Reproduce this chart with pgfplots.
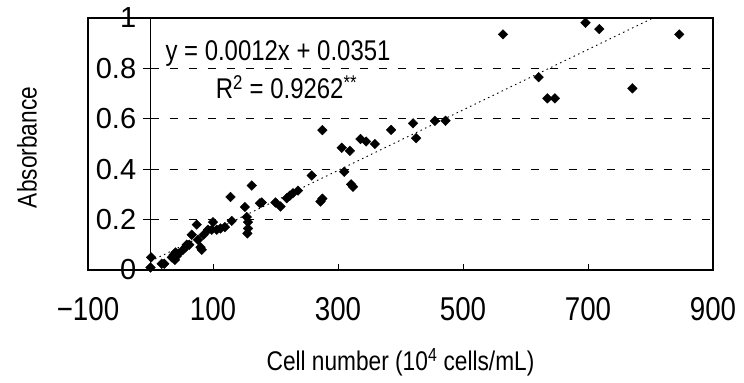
\documentclass[border=0pt]{standalone}
\usepackage{pgfplots}
\pgfplotsset{compat=1.18}
\usepackage{fontspec}
\setmainfont{Liberation Sans}
\newfontfamily\cond[FakeStretch=0.84]{Liberation Sans}
\begin{document}
\begin{tikzpicture}
\path[use as bounding box] (-88bp,-113bp) rectangle (656bp,270bp);
\begin{axis}[
 at={(0,0)}, anchor=south west, scale only axis,
 width=625bp, height=252bp,
 xmin=-100, xmax=900, ymin=0, ymax=1,
 axis line style={line width=1.2bp},
 xtick={-100,100,300,500,700,900},
 xticklabels={−100,100,300,500,700,900},
 ytick={0,0.2,0.4,0.6,0.8,1},
 yticklabels={0,0.2,0.4,0.6,0.8,1},
 tick pos=left, tick align=inside, major tick length=6bp,
 xtick style={line width=1bp, black},
 ytick style={draw=none},
 xticklabel style={font=\cond\fontsize{33bp}{36bp}\selectfont, yshift=-24bp},
 yticklabel style={font=\fontsize{29bp}{32bp}\selectfont, xshift=51.7bp},
 xlabel={Cell number (10\textsuperscript{4} cells/mL)},
 ylabel={Absorbance},
 xlabel style={font=\cond\fontsize{27bp}{30bp}\selectfont, at={(rel axis cs:0.5,-0.365)}, anchor=center},
 ylabel style={font=\cond\fontsize{27bp}{30bp}\selectfont, at={(rel axis cs:-0.0976,0.486)}, anchor=center},
 clip=false,
]
\pgfplotsinvokeforeach{0.2,0.4,0.6,0.8}{
 \draw[line width=1bp, dash pattern=on 8bp off 11bp] (axis cs:0,#1) -- (axis cs:900,#1);
 \draw[line width=1bp] ([xshift=-8bp]axis cs:0,#1) -- ([xshift=8bp]axis cs:0,#1);
}
\draw[line width=1.2bp] (axis cs:0,0) -- (axis cs:0,1);
\addplot[black, line width=0.9bp, dash pattern=on 1.5bp off 3.5bp] coordinates {(0,0.0351) (805,1.0011)};
\addplot[only marks, mark=square*, mark size=3.4bp, mark options={rotate=45, black, fill=black}] table {
x y
0 0.01
1 0.05
18 0.025
22 0.025
34 0.05
37 0.06
40 0.07
42 0.055
45 0.065
39 0.04
52 0.08
56 0.09
58 0.10
62 0.10
66 0.14
74 0.18
76 0.12
80 0.09
82 0.08
85 0.14
92 0.16
98 0.16
100 0.19
106 0.16
112 0.165
119 0.17
128 0.29
130 0.195
151 0.25
154 0.21
156 0.19
156 0.165
155 0.145
162 0.335
175 0.265
178 0.268
200 0.268
208 0.252
218 0.285
223 0.295
228 0.305
236 0.315
258 0.375
272 0.272
275 0.283
275 0.555
306 0.485
310 0.39
319 0.473
321 0.34
324 0.33
336 0.52
345 0.51
359 0.50
385 0.556
420 0.582
425 0.523
455 0.592
472 0.592
564 0.935
621 0.765
635 0.681
647 0.681
696 0.981
718 0.956
771 0.721
846 0.935
};
\node[anchor=base, inner sep=0pt, font=\cond\fontsize{28.5bp}{32bp}\selectfont] at (axis cs:204,0.83) {y = 0.0012x + 0.0351};
\node[anchor=base, inner sep=0pt, font=\cond\fontsize{28.5bp}{32bp}\selectfont] at (axis cs:217.6,0.68) {R\textsuperscript{2} = 0.9262\textsuperscript{**}};
\end{axis}
\end{tikzpicture}
\end{document}
